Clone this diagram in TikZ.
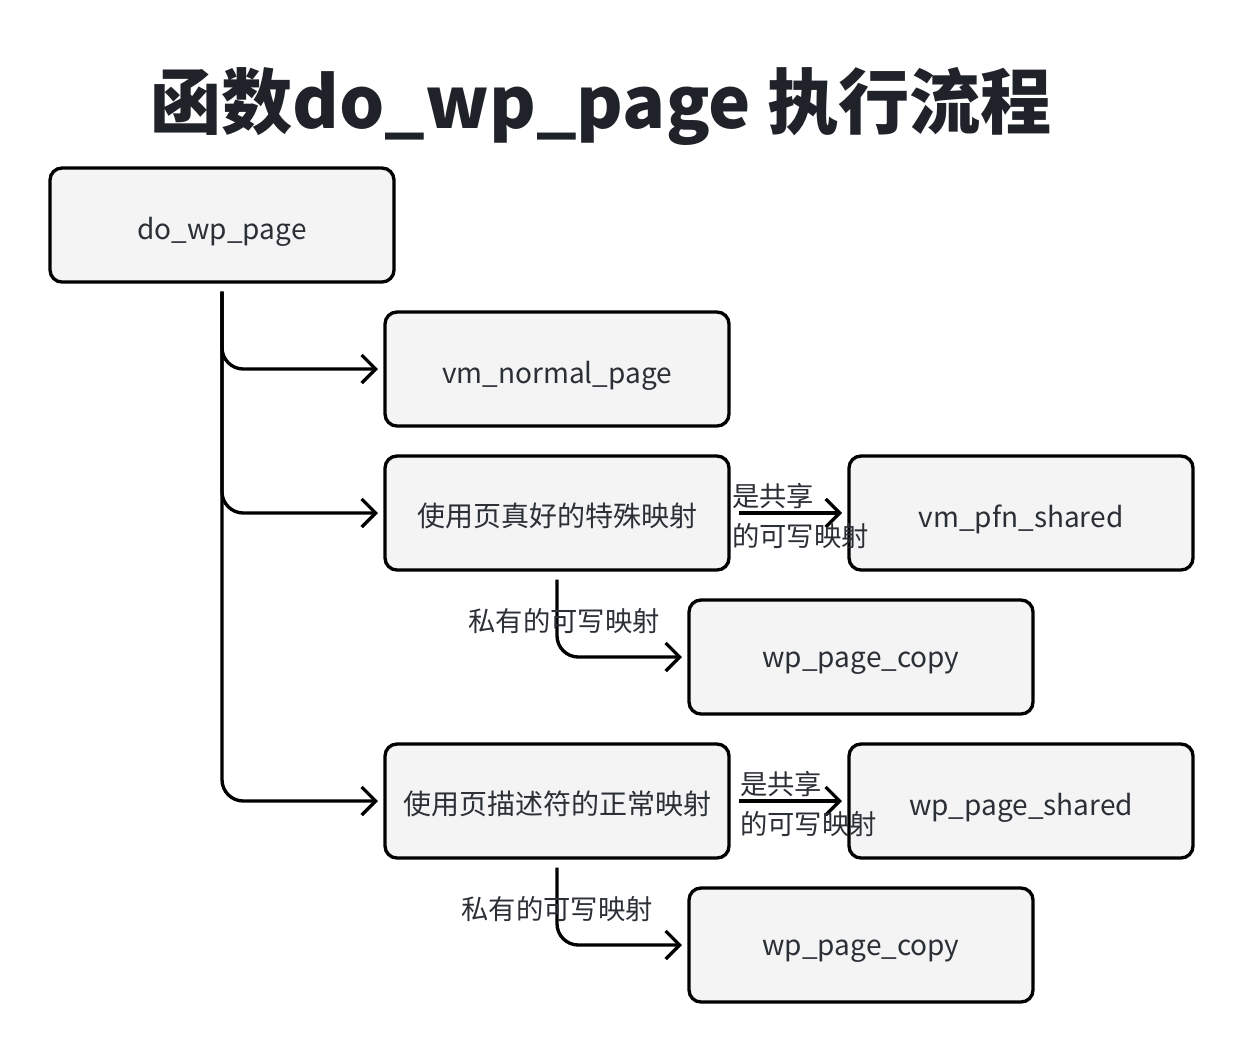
\documentclass[tikz,border=0pt]{standalone}
\usepackage{fontspec}
\setmainfont{Noto Sans CJK SC}
\usetikzlibrary{arrows.meta,calc}
\definecolor{boxfill}{HTML}{F4F4F4}
\definecolor{txt}{HTML}{2B2F36}
\definecolor{ttl}{HTML}{1F2329}
\newcommand{\lowr}[1]{\raisebox{-5pt}[\height][\depth]{#1}}
\newcommand{\lowc}[1]{\raisebox{-2pt}[\height][\depth]{#1}}
\tikzset{
  fnbox/.style={draw=black, fill=boxfill, line width=2.5pt, rounded corners=9pt,
    minimum width=258pt, minimum height=85.5pt, inner sep=0pt, text=txt,
    font=\fontsize{21}{25}\selectfont},
  conn/.style={draw=black, line width=2.5pt, rounded corners=16pt,
    -{Straight Barb[length=10.5pt,width=21pt,line width=2.5pt]},
    shorten <=6pt, shorten >=4pt},
  elabel/.style={text=txt, inner sep=0pt, font=\fontsize{20.5}{30}\selectfont}
}
\begin{document}
\begin{tikzpicture}[x=0.75pt,y=-0.75pt]
\useasboundingbox (0,0) rectangle (1244,1054);
\node[text=ttl, inner sep=0pt, font=\fontsize{53.4}{60}\selectfont\bfseries] (title) at (601,106) {函数do\_wp\_page 执行流程};
\node[fnbox] (do) at (222,225) {\lowr{do\_wp\_page}};
\node[fnbox] (nvm) at (557,369) {\lowr{vm\_normal\_page}};
\node[fnbox] (sp) at (557,513) {\lowc{使用页真好的特殊映射}};
\node[fnbox] (pfn) at (1021,513) {\lowr{vm\_pfn\_shared}};
\node[fnbox] (copya) at (861,657) {\lowr{wp\_page\_copy}};
\node[fnbox] (nm) at (557,801) {\lowc{使用页描述符的正常映射}};
\node[fnbox] (shr) at (1021,801) {\lowr{wp\_page\_shared}};
\node[fnbox] (copyb) at (861,945) {\lowr{wp\_page\_copy}};

\draw[conn] (do.south) |- (nvm.west);
\draw[conn] (do.south) |- (sp.west);
\draw[conn] (do.south) |- (nm.west);
\draw[conn] (sp.east) -- (pfn.west);
\draw[conn] (sp.south) |- (copya.west);
\draw[conn] (nm.east) -- (shr.west);
\draw[conn] (nm.south) |- (copyb.west);

\node[elabel, anchor=west, align=left] (la) at (732,516) {是共享\\的可写映射};
\node[elabel] (lb) at (564,621) {私有的可写映射};
\node[elabel, anchor=west, align=left] (lc) at (740,804) {是共享\\的可写映射};
\node[elabel] (ld) at (557,909) {私有的可写映射};
\end{tikzpicture}
\end{document}
